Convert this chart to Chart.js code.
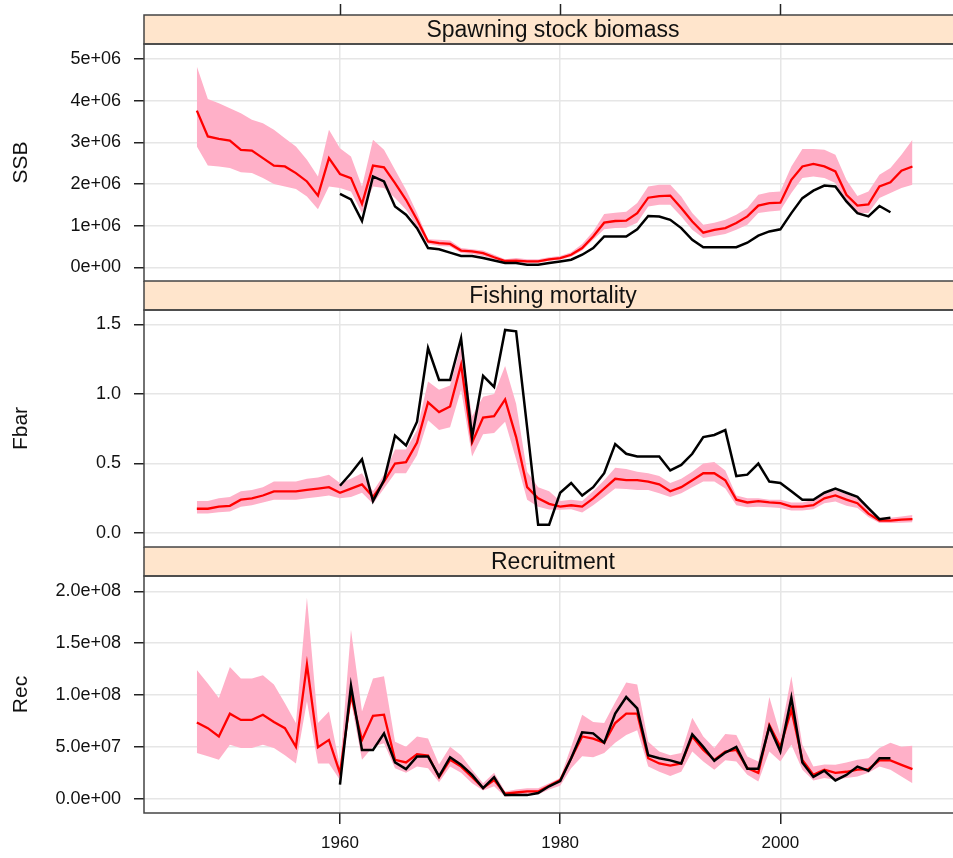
<!DOCTYPE html>
<html>
<head>
<meta charset="utf-8">
<script src="https://cdn.jsdelivr.net/npm/chart.js@4/dist/chart.umd.min.js"></script>
<style>
  body { margin: 0; background: #fff; overflow: hidden; }
  #wrap { position: relative; width: 953px; height: 858px; overflow: hidden; }
  #wrap canvas { position: absolute; left: 0; }
</style>
</head>
<body>
<div id="wrap">
  <canvas id="ssbChart" width="975" height="282" style="top:0"></canvas>
  <canvas id="fbarChart" width="975" height="267" style="top:281px"></canvas>
  <canvas id="recChart" width="975" height="311" style="top:547px"></canvas>
</div>
<script>
// years of the simulated series and of the assessment (black line)
const years = [];
for (let y = 1947; y <= 2012; y++) years.push(y);
const assessYears = [];
for (let y = 1960; y <= 2010; y++) assessYears.push(y);

const xTicks = [1960, 1980, 2000];

// SSB, in millions of tonnes
const ssbMedian = [3.76,3.14,3.08,3.04,2.82,2.80,2.62,2.44,2.42,2.26,2.06,1.72,2.62,
  2.24,2.14,1.52,2.44,2.40,2.02,1.62,1.14,0.62,0.58,
  0.56,0.40,0.38,0.34,0.24,0.15,0.16,0.14,0.14,0.19,
  0.22,0.30,0.46,0.74,1.07,1.11,1.12,1.30,1.67,1.71,
  1.72,1.42,1.10,0.83,0.90,0.94,1.06,1.22,1.48,1.54,
  1.55,2.10,2.42,2.48,2.42,2.30,1.74,1.48,1.51,1.94,
  2.04,2.32,2.42];
const ssbUpper = [4.82,4.04,3.94,3.82,3.70,3.54,3.46,3.30,3.10,2.90,2.58,2.18,3.30,
  2.86,2.66,1.94,3.06,2.82,2.34,1.86,1.30,0.67,0.66,
  0.64,0.46,0.43,0.40,0.30,0.19,0.22,0.19,0.19,0.24,
  0.27,0.36,0.56,0.86,1.28,1.31,1.33,1.54,1.94,1.98,
  1.98,1.70,1.30,1.02,1.07,1.14,1.26,1.42,1.74,1.80,
  1.82,2.42,2.84,2.84,2.82,2.70,2.10,1.71,1.82,2.22,
  2.38,2.70,3.06];
const ssbLower = [2.90,2.44,2.42,2.38,2.28,2.26,2.14,2.00,1.94,1.88,1.70,1.39,1.94,
  1.90,1.82,1.30,1.94,1.90,1.66,1.38,0.98,0.56,0.51,
  0.50,0.34,0.32,0.27,0.19,0.11,0.11,0.10,0.10,0.15,
  0.18,0.25,0.40,0.66,0.91,0.94,0.95,1.07,1.46,1.50,
  1.50,1.22,0.90,0.70,0.75,0.80,0.90,1.02,1.30,1.34,
  1.36,1.78,2.14,2.18,2.14,2.02,1.54,1.30,1.30,1.66,
  1.78,1.90,1.98];
const ssbAssess = [1.76,1.63,1.11,2.18,2.06,1.46,1.26,0.94,0.46,0.43,
  0.35,0.27,0.27,0.22,0.16,0.10,0.10,0.06,0.06,0.10,
  0.14,0.18,0.30,0.46,0.74,0.74,0.74,0.91,1.23,1.22,
  1.14,0.94,0.66,0.48,0.48,0.48,0.48,0.59,0.76,0.86,
  0.91,1.30,1.66,1.84,1.96,1.94,1.58,1.30,1.22,1.47,
  1.32];
const ssbTicks = [0, 1, 2, 3, 4, 5];
const ssbTickLabels = ["0e+00", "1e+06", "2e+06", "3e+06", "4e+06", "5e+06"];

// Fbar
const fbarMedian = [0.175,0.175,0.19,0.196,0.24,0.25,0.27,0.30,0.30,0.30,0.31,0.32,0.33,
  0.29,0.32,0.35,0.26,0.37,0.50,0.51,0.65,0.94,0.87,
  0.91,1.21,0.65,0.83,0.84,0.96,0.69,0.33,0.25,0.21,
  0.19,0.20,0.19,0.25,0.32,0.39,0.38,0.38,0.37,0.35,
  0.30,0.33,0.38,0.43,0.43,0.38,0.24,0.22,0.23,0.22,
  0.215,0.19,0.19,0.20,0.25,0.27,0.24,0.215,0.14,0.09,
  0.09,0.096,0.10];
const fbarUpper = [0.23,0.23,0.25,0.26,0.30,0.31,0.33,0.37,0.37,0.37,0.39,0.40,0.42,
  0.36,0.39,0.43,0.30,0.42,0.60,0.60,0.74,1.09,1.03,
  1.06,1.35,0.84,0.98,1.00,1.20,0.93,0.44,0.33,0.30,
  0.23,0.24,0.23,0.30,0.38,0.47,0.46,0.44,0.43,0.41,
  0.36,0.39,0.44,0.50,0.51,0.45,0.27,0.25,0.25,0.24,
  0.24,0.22,0.22,0.24,0.29,0.31,0.28,0.25,0.18,0.11,
  0.11,0.12,0.13];
const fbarLower = [0.14,0.14,0.15,0.155,0.19,0.20,0.22,0.24,0.24,0.24,0.25,0.26,0.27,
  0.25,0.26,0.29,0.21,0.32,0.43,0.43,0.56,0.81,0.74,
  0.76,1.03,0.55,0.71,0.72,0.80,0.53,0.24,0.19,0.17,
  0.167,0.172,0.148,0.20,0.26,0.32,0.316,0.31,0.31,0.287,
  0.26,0.287,0.33,0.37,0.37,0.32,0.20,0.186,0.19,0.186,
  0.18,0.163,0.163,0.172,0.215,0.227,0.196,0.18,0.115,0.072,
  0.072,0.075,0.078];
const fbarAssess = [0.34,0.43,0.53,0.23,0.38,0.70,0.63,0.80,1.33,1.10,
  1.10,1.40,0.69,1.13,1.05,1.46,1.45,0.76,0.06,0.06,
  0.29,0.36,0.27,0.33,0.43,0.64,0.57,0.55,0.55,0.55,
  0.45,0.49,0.57,0.69,0.705,0.74,0.41,0.42,0.50,0.37,
  0.36,0.30,0.24,0.24,0.29,0.32,0.29,0.26,0.18,0.10,
  0.11];
const fbarTicks = [0, 0.5, 1, 1.5];
const fbarTickLabels = ["0.0", "0.5", "1.0", "1.5"];

// Recruitment, in millions
const recMedian = [73.4,68,60,82,76,76,81,74,68,50,129.5,49.7,56.7,
  24.7,100,56.7,80,81,37.5,35,43,41.7,20.8,
  37.5,31,20.8,10.3,18,4.8,6,7,7,12.5,
  18,39,60,58,54,73,82,82,39,34,
  32,34,60,47,37.5,45.5,47,29.5,25,71,
  50,85.6,37.5,23,28,25,26,28,28.5,37,
  37,32.7,28.5];
const recUpper = [124,111,97,127,116,116,119,110,92,73,194,73,84,
  31,163,84,116,118,55,50,60,58,33,
  50,42,28,15,25,7,9,10,10,15,
  20,50,81,74,73,93,112,110,55,45.5,
  42,44,78,60,49,62.5,61.5,40.7,36,98,
  61.5,118,52,31,33,32.7,35,37.5,39,49,
  54,50,51];
const recLower = [44,41,37.5,52,49,49,52,49,42,34,94,34,34,
  18,94,37.5,50,53.5,29.5,25,31,29.5,16,
  31,25,15,8,12,2,3,4,4,9,
  12.5,29.5,41,40,44,54,61.5,66,31,26,
  22,26,45.5,36,28,37,36,23,16.7,45.5,
  36,52,28,17.6,20,18.3,20,21.5,25,31,
  28,21.5,15];
const recAssess = [13.5,109,47,47,63,35,28.5,40.7,40.7,21.5,
  40,32.7,23,10.3,20.8,3.5,3.5,3.5,5.5,12,
  17,39,64,63,54,82,98,87,42,39,
  37,34,62,50,36.5,44.5,50,29,29,69.5,
  45.5,97.4,35,21,27,17.6,23,31,27,39,
  39];
const recTicks = [0, 50, 100, 150, 200];
const recTickLabels = ["0.0e+00", "5.0e+07", "1.0e+08", "1.5e+08", "2.0e+08"];

const PINK = "#ffb0c8";
const STRIP = "#ffe5cc";
const FRAME = "#444444";
const GRID = "#e6e6e6";

Chart.defaults.font.family = '"Liberation Sans", Arial, sans-serif';
Chart.defaults.color = "#111";

// strip + panel box (lattice look), optional ticks above the strip
const panelPlugin = {
  id: "panel",
  afterDraw(chart, args, opts) {
    const { ctx, chartArea: a, scales } = chart;
    ctx.save();
    ctx.strokeStyle = FRAME;
    ctx.lineWidth = 1.5;
    ctx.fillStyle = STRIP;
    ctx.fillRect(a.left, a.top - 29, a.right - a.left, 29);
    ctx.strokeRect(a.left, a.top - 29, a.right - a.left, 29);
    ctx.strokeRect(a.left, a.top, a.right - a.left, a.bottom - a.top);
    ctx.fillStyle = "#111";
    ctx.font = '23px "Liberation Sans", Arial, sans-serif';
    ctx.textAlign = "center";
    ctx.textBaseline = "middle";
    ctx.fillText(opts.label, (a.left + a.right) / 2, a.top - 13);
    if (opts.topTicks) {
      ctx.strokeStyle = "#222";
      xTicks.forEach(v => {
        const px = Math.round(scales.x.getPixelForValue(v)) + 0.5;
        ctx.beginPath();
        ctx.moveTo(px, a.top - 29);
        ctx.lineTo(px, a.top - 40);
        ctx.stroke();
      });
    }
    ctx.restore();
  }
};

function toPoints(xs, ys) {
  return xs.map((x, i) => ({ x: x, y: ys[i] }));
}

function makePanel(id, opt) {
  const datasets = [
    { data: toPoints(assessYears, opt.assess), borderColor: "#000", borderWidth: 2.5 },
    { data: toPoints(years, opt.median), borderColor: "#f00", borderWidth: 2.3 },
    { data: toPoints(years, opt.upper), borderColor: "rgba(0,0,0,0)", borderWidth: 0,
      backgroundColor: PINK, fill: "+1" },
    { data: toPoints(years, opt.lower), borderColor: "rgba(0,0,0,0)", borderWidth: 0, fill: false }
  ];
  datasets.forEach(d => { d.pointRadius = 0; d.tension = 0; });

  return new Chart(document.getElementById(id), {
    type: "line",
    data: { datasets },
    plugins: [panelPlugin],
    options: {
      responsive: false,
      animation: false,
      events: [],
      layout: { padding: { top: opt.padTop, right: 13, bottom: opt.padBottom, left: 0 } },
      plugins: {
        legend: { display: false },
        tooltip: { enabled: false },
        panel: { label: opt.label, topTicks: !!opt.topTicks }
      },
      scales: {
        x: {
          type: "linear",
          min: 1942.2,
          max: 2016.5,
          afterBuildTicks: s => { s.ticks = xTicks.map(v => ({ value: v })); },
          afterFit: s => { s.height = opt.xHeight; s.paddingLeft = 0; s.paddingRight = 0; },
          border: { display: false },
          grid: {
            color: GRID, lineWidth: 1.5,
            drawTicks: opt.xLabels, tickLength: 11, tickColor: "#222", tickWidth: 1.5
          },
          ticks: {
            display: opt.xLabels,
            font: { size: 17 },
            padding: 9,
            maxRotation: 0,
            callback: v => String(v)
          }
        },
        y: {
          min: opt.yMin,
          max: opt.yMax,
          afterBuildTicks: s => { s.ticks = opt.ticks.map(v => ({ value: v })); },
          // fixed axis width; drop the label overhang padding so the box keeps its size
          afterFit: s => { s.width = 144; s.paddingTop = 0; s.paddingBottom = 0; },
          border: { display: false },
          grid: { color: GRID, lineWidth: 1.5, tickLength: 10, tickColor: "#222", tickWidth: 1.5 },
          ticks: {
            font: { size: 18 },
            padding: 13,
            callback: (v, i) => opt.tickLabels[i]
          },
          title: {
            display: true,
            text: opt.title,
            font: { size: 21 },
            padding: { top: 9, bottom: 0 }
          }
        }
      }
    }
  });
}

makePanel("ssbChart", {
  label: "Spawning stock biomass", title: "SSB", topTicks: true,
  median: ssbMedian, upper: ssbUpper, lower: ssbLower, assess: ssbAssess,
  ticks: ssbTicks, tickLabels: ssbTickLabels, yMin: -0.33, yMax: 5.36,
  padTop: 44, padBottom: 1, xHeight: 0, xLabels: false
});

makePanel("fbarChart", {
  label: "Fishing mortality", title: "Fbar",
  median: fbarMedian, upper: fbarUpper, lower: fbarLower, assess: fbarAssess,
  ticks: fbarTicks, tickLabels: fbarTickLabels, yMin: -0.1, yMax: 1.603,
  padTop: 29, padBottom: 1, xHeight: 0, xLabels: false
});

makePanel("recChart", {
  label: "Recruitment", title: "Rec",
  median: recMedian, upper: recUpper, lower: recLower, assess: recAssess,
  ticks: recTicks, tickLabels: recTickLabels, yMin: -13.75, yMax: 214.7,
  padTop: 29, padBottom: 0, xHeight: 45, xLabels: true
});
</script>
</body>
</html>
